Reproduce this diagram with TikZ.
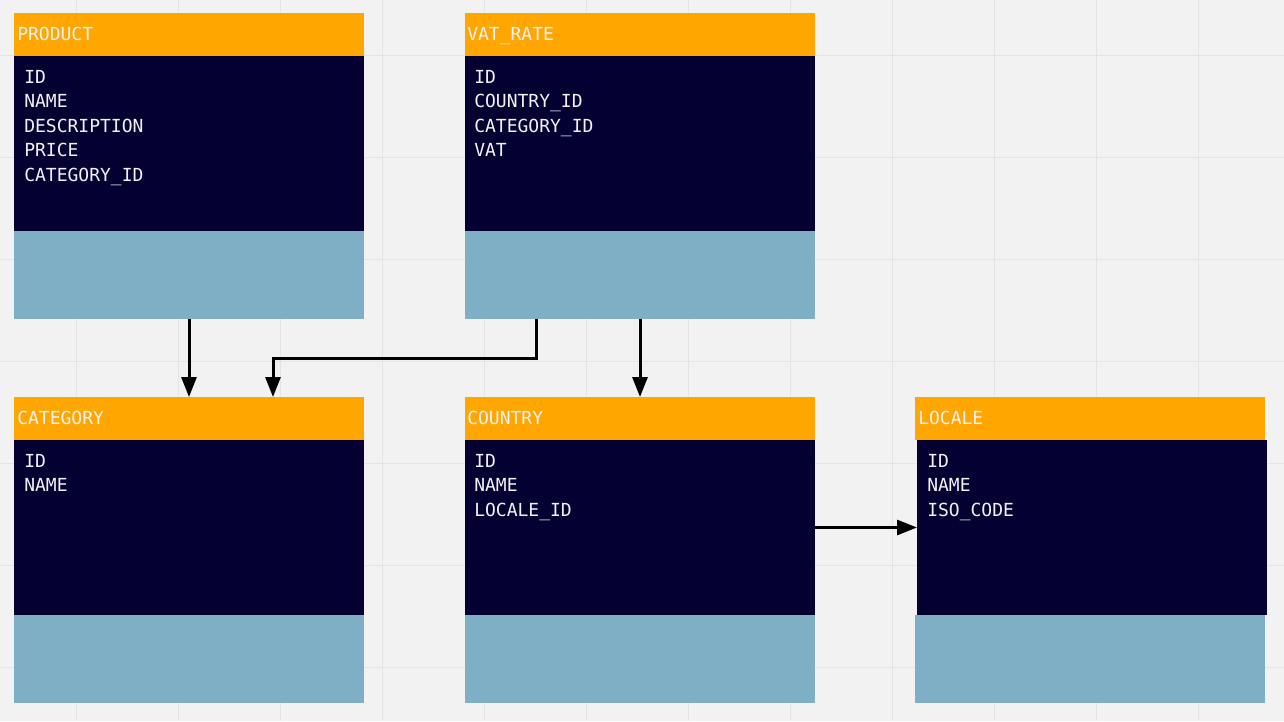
\documentclass[tikz,border=0pt]{standalone}
\usepackage{fontspec}
\setmonofont{DejaVu Sans Mono}
\usetikzlibrary{arrows.meta,calc}
\definecolor{bgc}{HTML}{F2F2F2}
\definecolor{gridc}{HTML}{E4E4E4}
\definecolor{hdrc}{HTML}{FFA700}
\definecolor{bodyc}{HTML}{050032}
\definecolor{footc}{HTML}{7EAFC4}
\definecolor{txtc}{HTML}{F2F2F6}
\begin{document}
\begin{tikzpicture}[x=0.75pt,y=-0.75pt,
  hdr/.style={fill=hdrc,draw=none,anchor=north west,minimum width=262.5pt,minimum height=32.25pt,inner sep=0,outer sep=0},
  tbody/.style={fill=bodyc,draw=none,anchor=north west,minimum width=262.5pt,minimum height=131.25pt,inner sep=0,outer sep=0},
  tfoot/.style={fill=footc,draw=none,anchor=north west,minimum width=262.5pt,minimum height=66pt,inner sep=0,outer sep=0},
  ttl/.style={text=txtc,anchor=base west,inner sep=0,font=\ttfamily\fontsize{13.5}{16}\selectfont},
  fld/.style={text=txtc,anchor=base west,inner sep=0,align=left,font=\ttfamily\fontsize{13.5}{18.4}\selectfont},
  conn/.style={draw=black,line width=2.25pt,-{Triangle[length=15pt,width=11.25pt]}}]
\useasboundingbox (0,0) rectangle (1284,721);
\fill[bgc] (0,0) rectangle (1284,721);
\foreach \gx in {76,178,...,1300} \draw[gridc,line width=0.75pt] (\gx,0) -- (\gx,721);
\foreach \gy in {55,157,...,721} \draw[gridc,line width=0.75pt] (0,\gy) -- (1284,\gy);

% PRODUCT
\node[hdr] (phead) at (14,13) {};
\node[tbody] (pbody) at (14,56) {};
\node[tfoot] (pfoot) at (14,231) {};
\node[ttl] (ptitle) at (17,40.5) {PRODUCT};
\node[fld] (pfields) at (24,181.4) {ID\\NAME\\DESCRIPTION\\PRICE\\CATEGORY\_ID};

% VAT_RATE
\node[hdr] (vhead) at (465,13) {};
\node[tbody] (vbody) at (465,56) {};
\node[tfoot] (vfoot) at (465,231) {};
\node[ttl] (vtitle) at (467,40.5) {VAT\_RATE};
\node[fld] (vfields) at (474,156.9) {ID\\COUNTRY\_ID\\CATEGORY\_ID\\VAT};

% CATEGORY
\node[hdr] (chead) at (14,397) {};
\node[tbody] (cbody) at (14,440) {};
\node[tfoot] (cfoot) at (14,615) {};
\node[ttl] (ctitle) at (17,424.5) {CATEGORY};
\node[fld] (cfields) at (24,491.8) {ID\\NAME};

% COUNTRY
\node[hdr] (ohead) at (465,397) {};
\node[tbody] (obody) at (465,440) {};
\node[tfoot] (ofoot) at (465,615) {};
\node[ttl] (otitle) at (467,424.5) {COUNTRY};
\node[fld] (ofields) at (474,516.4) {ID\\NAME\\LOCALE\_ID};

% LOCALE
\node[hdr] (lhead) at (915,397) {};
\node[tbody] (lbody) at (917,440) {};
\node[tfoot] (lfoot) at (915,615) {};
\node[ttl] (ltitle) at (918,424.5) {LOCALE};
\node[fld] (lfields) at (927,516.4) {ID\\NAME\\ISO\_CODE};

% connectors
\coordinate (vout) at ($(vfoot.south west)+(71,0)$);
\coordinate (cin) at ($(chead.north west)+(259,0)$);
\draw[conn] (pfoot.south) -- (chead.north);
\draw[conn] (vout) -- ++(0,39) -| (cin);
\draw[conn] (vfoot.south) -- (ohead.north);
\draw[conn] (obody.east) -- (lbody.west);
\end{tikzpicture}
\end{document}
